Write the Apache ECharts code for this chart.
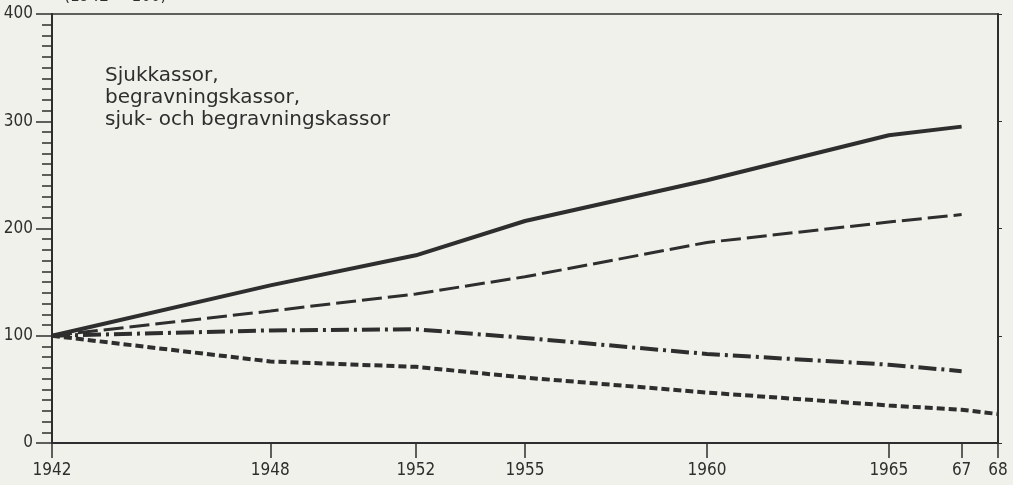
<!DOCTYPE html>
<html>
<head>
<meta charset="utf-8">
<script src="https://cdn.jsdelivr.net/npm/echarts@6/dist/echarts.min.js"></script>
<style>
html,body{margin:0;padding:0;background:#f1f1eb;}
#c{width:1013px;height:485px;}
</style>
</head>
<body>
<div id="c"></div>
<script>
// Data (index, 1942 = 100)
const years = [1942, 1948, 1952, 1955, 1960, 1965, 1967];
const yearsDotted = [1942, 1948, 1952, 1955, 1960, 1965, 1967, 1968];
const solidValues = [100, 147, 175, 207, 245, 287, 295];
const dashedValues = [100, 123, 139, 155, 187, 206, 213];
const dashDotValues = [100, 105, 106, 98, 83, 73, 67];
const dottedValues = [100, 76, 71, 61, 47, 35, 31, 27];

const xTickYears = [1942, 1948, 1952, 1955, 1960, 1965, 1967, 1968];
const xTickLabels = ['1942', '1948', '1952', '1955', '1960', '1965', '67', '68'];
const noteLines = ['Sjukkassor,', 'begravningskassor,', 'sjuk- och begravningskassor'];
const unitText = '(1942 = 100)';

const ink = '#2e2e2e';
const axisFont = '"DejaVu Sans Condensed", sans-serif';

function pairs(xs, ys) { return xs.map((x, i) => [x, ys[i]]); }

const chart = echarts.init(document.getElementById('c'), null, {renderer: 'canvas'});
chart.setOption({
  backgroundColor: '#f1f1eb',
  animation: false,
  grid: {left: 52, right: 15, top: 14, bottom: 42, show: true, borderColor: ink, borderWidth: 1.5,
         backgroundColor: 'transparent', containLabel: false, outerBoundsMode: 'none'},
  xAxis: {
    type: 'value', min: 1942, max: 1968,
    axisLine: {show: true, lineStyle: {color: ink, width: 2}},
    axisTick: {show: true, customValues: xTickYears, length: 15, lineStyle: {color: ink, width: 1.5}},
    axisLabel: {
      customValues: xTickYears, color: ink, fontFamily: axisFont, fontSize: 17, margin: 19,
      formatter: v => xTickLabels[xTickYears.indexOf(v)] ?? ''
    },
    splitLine: {show: false}
  },
  yAxis: [{
    type: 'value', min: 0, max: 400, interval: 100,
    axisLine: {show: true, lineStyle: {color: ink, width: 2}},
    axisTick: {show: true, length: 16, lineStyle: {color: ink, width: 1.5}},
    minorTick: {show: true, splitNumber: 10, length: 10, lineStyle: {color: ink, width: 1.5}},
    axisLabel: {color: ink, fontFamily: axisFont, fontSize: 17, margin: 19},
    splitLine: {show: false}
  }, {
    type: 'value', min: 0, max: 400, interval: 100, position: 'right',
    axisLine: {show: true, lineStyle: {color: ink, width: 2}},
    axisTick: {show: true, length: 4, lineStyle: {color: ink, width: 1}},
    axisLabel: {show: false},
    splitLine: {show: false}
  }],
  graphic: [{
    type: 'text', left: 105, top: 65,
    style: {text: noteLines.join('\n'), font: '20px "DejaVu Sans"', fill: ink, lineHeight: 22}
  }, {
    type: 'text', left: 64, top: -12,
    style: {text: unitText, font: '17px "DejaVu Sans Condensed"', fill: ink}
  }],
  series: [{
    type: 'line', data: pairs(years, solidValues), symbol: 'none',
    lineStyle: {color: ink, width: 4, type: 'solid'}
  }, {
    type: 'line', data: pairs(years, dashedValues), symbol: 'none',
    lineStyle: {color: ink, width: 3, type: [20, 6]}
  }, {
    type: 'line', data: pairs(years, dashDotValues), symbol: 'none',
    lineStyle: {color: ink, width: 4, type: [18, 5, 3, 5]}
  }, {
    type: 'line', data: pairs(yearsDotted, dottedValues), symbol: 'none',
    lineStyle: {color: ink, width: 4, type: [8, 4]}
  }]
});
</script>
</body>
</html>
